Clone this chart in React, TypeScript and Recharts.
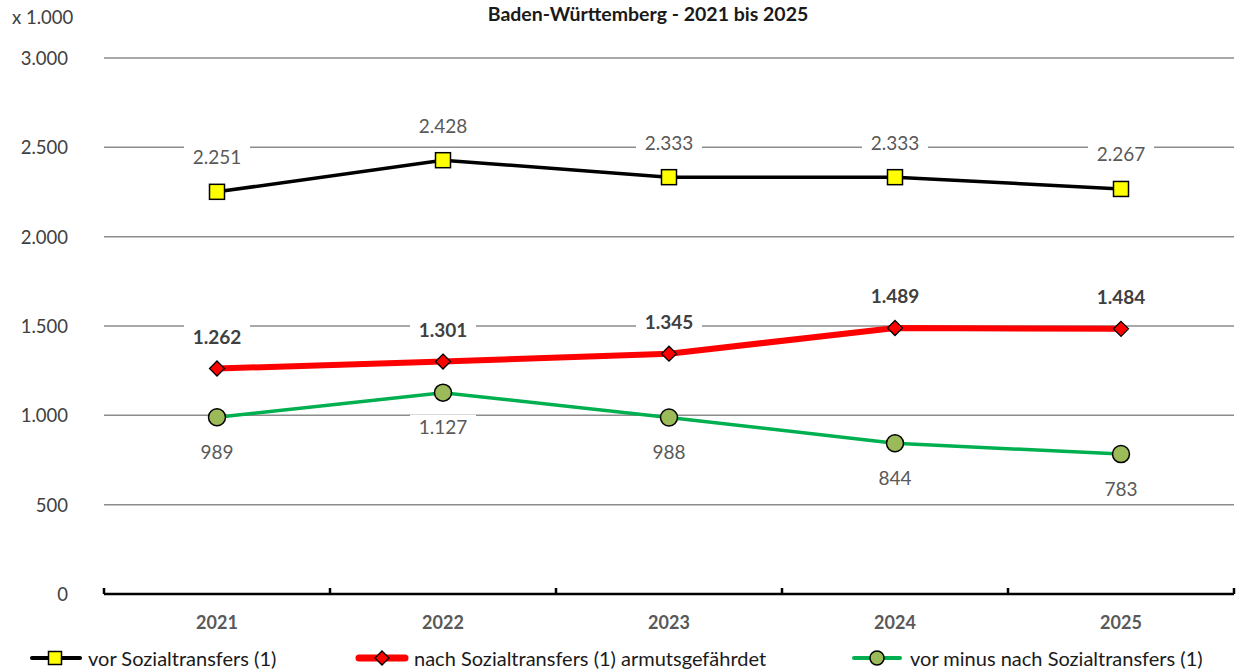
import React from 'react';
import { LineChart, Line, XAxis, YAxis, CartesianGrid } from 'recharts';

const years = ['2021', '2022', '2023', '2024', '2025'];
const vorSozial = [2251, 2428, 2333, 2333, 2267];
const nachSozial = [1262, 1301, 1345, 1489, 1484];
const differenz = [989, 1127, 988, 844, 783];
const yTicks = [0, 500, 1000, 1500, 2000, 2500, 3000];

const data = years.map((year, i) => ({
  idx: i,
  year,
  vor: vorSozial[i],
  nach: nachSozial[i],
  diff: differenz[i],
}));

const W = 1236;
const H = 670;
const LEFT = 104;
const RIGHT = 2;
const PLOT_BOTTOM = 594;
const HALF_BAND = (W - LEFT - RIGHT) / years.length / 2;
const FONT = 'Lato, "Open Sans", sans-serif';

const fmt = (v: number) => v.toLocaleString('de-DE');

const YTick = (props: any) => {
  const { y, payload } = props;
  return (
    <text x={68} y={y} textAnchor="end" dominantBaseline="central" fill="#404040" fontSize={18.5} fontFamily={FONT}>
      {fmt(payload.value)}
    </text>
  );
};

const XTick = (props: any) => {
  const { x, payload, index } = props;
  return (
    <g>
      <line x1={x - HALF_BAND} x2={x - HALF_BAND} y1={PLOT_BOTTOM} y2={PLOT_BOTTOM - 6} stroke="#000" strokeWidth={2.5} />
      {index === years.length - 1 && (
        <line x1={x + HALF_BAND} x2={x + HALF_BAND} y1={PLOT_BOTTOM} y2={PLOT_BOTTOM - 6} stroke="#000" strokeWidth={2.5} />
      )}
      <text x={x} y={PLOT_BOTTOM + 28} textAnchor="middle" dominantBaseline="central" fill="#595959" fontSize={18} fontWeight={700} fontFamily={FONT}>
        {years[payload.value]}
      </text>
    </g>
  );
};

const makeLabel = (dy: number, bold: boolean, color: string) => (props: any) => {
  const { x, y, value } = props;
  if (x == null || y == null) return null;
  const cy = y + dy;
  return (
    <g>
      <rect x={x - 33} y={cy - 12} width={66} height={24} fill="#fff" />
      <text x={x} y={cy} textAnchor="middle" dominantBaseline="central" fill={color} fontSize={19} fontWeight={bold ? 700 : 400} fontFamily={FONT}>
        {fmt(value)}
      </text>
    </g>
  );
};

const SquareDot = (props: any) => {
  const { cx, cy, index } = props;
  return <rect key={`sq-${index}`} x={cx - 7.5} y={cy - 7.5} width={15} height={15} fill="#FFFF00" stroke="#000" strokeWidth={1.5} />;
};

const DiamondDot = (props: any) => {
  const { cx, cy, index } = props;
  return (
    <path
      key={`dm-${index}`}
      d={`M${cx} ${cy - 7.5} L${cx + 7.5} ${cy} L${cx} ${cy + 7.5} L${cx - 7.5} ${cy} Z`}
      fill="#FF0000"
      stroke="#000"
      strokeWidth={1.3}
    />
  );
};

const CircleDot = (props: any) => {
  const { cx, cy, index } = props;
  return <circle key={`ci-${index}`} cx={cx} cy={cy} r={8.5} fill="#9BBB59" stroke="#000" strokeWidth={1.5} />;
};

const legendText: React.CSSProperties = {
  position: 'absolute',
  top: 645,
  fontSize: 20,
  color: '#1a1a1a',
  fontFamily: FONT,
  lineHeight: '26px',
  whiteSpace: 'nowrap',
};

const Legend = () => (
  <>
    <svg style={{ position: 'absolute', left: 30, top: 648 }} width={54} height={20}>
      <line x1={2} x2={50} y1={10} y2={10} stroke="#000" strokeWidth={4} strokeLinecap="round" />
      <rect x={18.5} y={3.5} width={13} height={13} fill="#FFFF00" stroke="#000" strokeWidth={1.5} />
    </svg>
    <div style={{ ...legendText, left: 88 }}>vor Sozialtransfers (1)</div>
    <svg style={{ position: 'absolute', left: 354, top: 648 }} width={56} height={20}>
      <line x1={5} x2={51} y1={10} y2={10} stroke="#FF0000" strokeWidth={7} strokeLinecap="round" />
      <path d="M28 3 L35 10 L28 17 L21 10 Z" fill="#FF0000" stroke="#000" strokeWidth={1.3} />
    </svg>
    <div style={{ ...legendText, left: 414 }}>nach Sozialtransfers (1) armutsgefährdet</div>
    <svg style={{ position: 'absolute', left: 850, top: 648 }} width={56} height={20}>
      <line x1={4} x2={50} y1={10} y2={10} stroke="#00B050" strokeWidth={4} strokeLinecap="round" />
      <circle cx={27} cy={10} r={7} fill="#9BBB59" stroke="#000" strokeWidth={1.5} />
    </svg>
    <div style={{ ...legendText, left: 910 }}>vor minus nach Sozialtransfers (1)</div>
  </>
);

export default function App() {
  return (
    <div style={{ position: 'absolute', left: 0, top: 0, width: W, height: H, background: '#fff', fontFamily: FONT }}>
      <div
        style={{
          position: 'absolute',
          top: 2,
          left: 0,
          width: 1296,
          textAlign: 'center',
          fontWeight: 700,
          fontSize: 19.5,
          color: '#1a1a1a',
          lineHeight: '24px',
        }}
      >
        Baden-Württemberg - 2021 bis 2025
      </div>
      <div style={{ position: 'absolute', top: 5, left: 12, fontSize: 18.5, color: '#404040', lineHeight: '24px' }}>x 1.000</div>
      <LineChart width={W} height={H} data={data} margin={{ top: 58, right: RIGHT, bottom: 36, left: 0 }}>
        <CartesianGrid vertical={false} stroke="#8c8c8c" strokeWidth={1.5} />
        <XAxis
          type="number"
          dataKey="idx"
          domain={[-0.5, 4.5]}
          ticks={[0, 1, 2, 3, 4]}
          height={40}
          axisLine={{ stroke: '#000', strokeWidth: 2.5 }}
          tickLine={false}
          tick={<XTick />}
          interval={0}
        />
        <YAxis
          domain={[0, 3000]}
          ticks={yTicks}
          width={LEFT}
          axisLine={false}
          tickLine={false}
          tick={<YTick />}
          interval={0}
        />
        <Line
          dataKey="vor"
          stroke="#000"
          strokeWidth={3.5}
          dot={SquareDot}
          activeDot={false}
          label={makeLabel(-35, false, '#595959')}
          isAnimationActive={false}
        />
        <Line
          dataKey="nach"
          stroke="#FF0000"
          strokeWidth={6}
          dot={DiamondDot}
          activeDot={false}
          label={makeLabel(-32, true, '#404040')}
          isAnimationActive={false}
        />
        <Line
          dataKey="diff"
          stroke="#00B050"
          strokeWidth={3.5}
          dot={CircleDot}
          activeDot={false}
          label={makeLabel(34, false, '#595959')}
          isAnimationActive={false}
        />
      </LineChart>
      <Legend />
    </div>
  );
}
